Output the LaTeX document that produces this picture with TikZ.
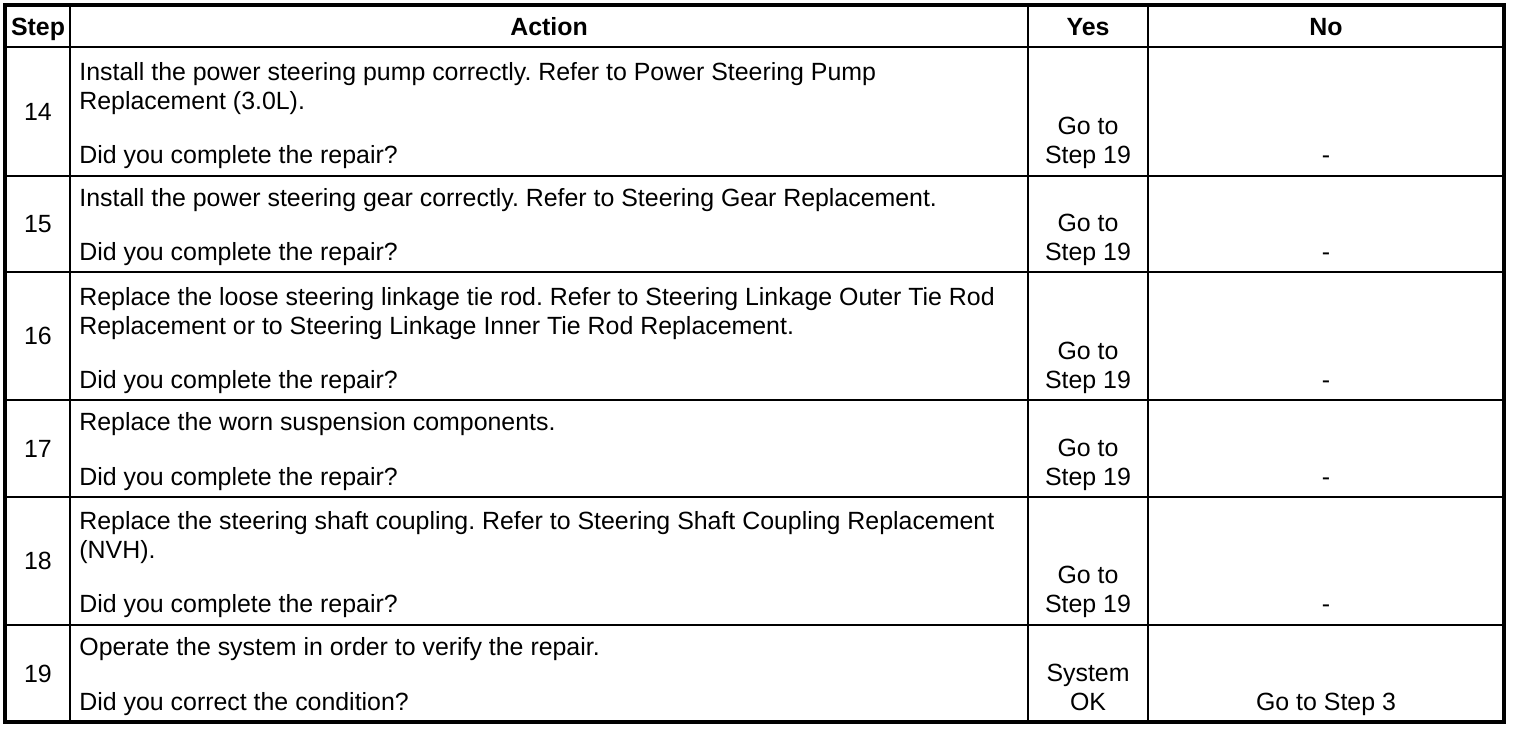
\documentclass[tikz,border=0pt]{standalone}
\usepackage{fontspec}
\setmainfont{Liberation Sans}
\tikzstyle{hd} = [font=\bfseries, anchor=base, inner sep=0pt]
\tikzstyle{num} = [anchor=center, inner sep=0pt]
\tikzstyle{act} = [anchor=base west, align=left, inner sep=0pt]
\tikzstyle{yes} = [anchor=base, align=center, inner sep=0pt]
\tikzstyle{no} = [anchor=base, inner sep=0pt]
\tikzstyle{frame} = [line width=1.7pt]
\tikzstyle{hrule} = [line width=1pt]
\tikzstyle{vrule} = [line width=0.8pt]
\begin{document}
\frenchspacing
\fontsize{12.45}{14.5}\selectfont
\begin{tikzpicture}[x=0.5pt,y=-0.5pt]
    \useasboundingbox (0,0) rectangle (1520,730);
    \foreach \y in {47,176,272,400,497,625} \draw[hrule] (5,\y) -- (1504,\y);
    \foreach \x in {70,1028,1148} \draw[vrule] (\x,5) -- (\x,722);
    \draw[frame] (5,5) rectangle (1504,722);
    \node (hStep) [hd] at (38,35) {Step};
    \node (hAction) [hd] at (549,35) {Action};
    \node (hYes) [hd] at (1088,35) {Yes};
    \node (hNo) [hd] at (1326,35) {No};
    % step 14
    \node (s14) [num] at (38,112) {14};
    \node (a14) [act] at (79,109.5) {Install the power steering pump correctly. Refer to Power Steering Pump\\Replacement (3.0L).};
    \node (q14) [act] at (79,163.5) {Did you complete the repair?};
    \node (y14) [yes] at (1088,163.5) {Go to\\Step 19};
    \node (n14) [no] at (1326,163.5) {-};
    % step 15
    \node (s15) [num] at (38,224) {15};
    \node (a15) [act] at (79,206.5) {Install the power steering gear correctly. Refer to Steering Gear Replacement.};
    \node (q15) [act] at (79,260.5) {Did you complete the repair?};
    \node (y15) [yes] at (1088,260.5) {Go to\\Step 19};
    \node (n15) [no] at (1326,260.5) {-};
    % step 16
    \node (s16) [num] at (38,336) {16};
    \node (a16) [act] at (79,334.5) {Replace the loose steering linkage tie rod. Refer to Steering Linkage Outer Tie Rod\\Replacement or to Steering Linkage Inner Tie Rod Replacement.};
    \node (q16) [act] at (79,388.5) {Did you complete the repair?};
    \node (y16) [yes] at (1088,388.5) {Go to\\Step 19};
    \node (n16) [no] at (1326,388.5) {-};
    % step 17
    \node (s17) [num] at (38,448.5) {17};
    \node (a17) [act] at (79,430.5) {Replace the worn suspension components.};
    \node (q17) [act] at (79,485.5) {Did you complete the repair?};
    \node (y17) [yes] at (1088,485.5) {Go to\\Step 19};
    \node (n17) [no] at (1326,485.5) {-};
    % step 18
    \node (s18) [num] at (38,561) {18};
    \node (a18) [act] at (79,558.5) {Replace the steering shaft coupling. Refer to Steering Shaft Coupling Replacement\\(NVH).};
    \node (q18) [act] at (79,612.5) {Did you complete the repair?};
    \node (y18) [yes] at (1088,612.5) {Go to\\Step 19};
    \node (n18) [no] at (1326,612.5) {-};
    % step 19
    \node (s19) [num] at (38,673.5) {19};
    \node (a19) [act] at (79,655.5) {Operate the system in order to verify the repair.};
    \node (q19) [act] at (79,710.5) {Did you correct the condition?};
    \node (y19) [yes] at (1088,710.5) {System\\OK};
    \node (n19) [no] at (1326,710.5) {Go to Step 3};
\end{tikzpicture}
\end{document}
